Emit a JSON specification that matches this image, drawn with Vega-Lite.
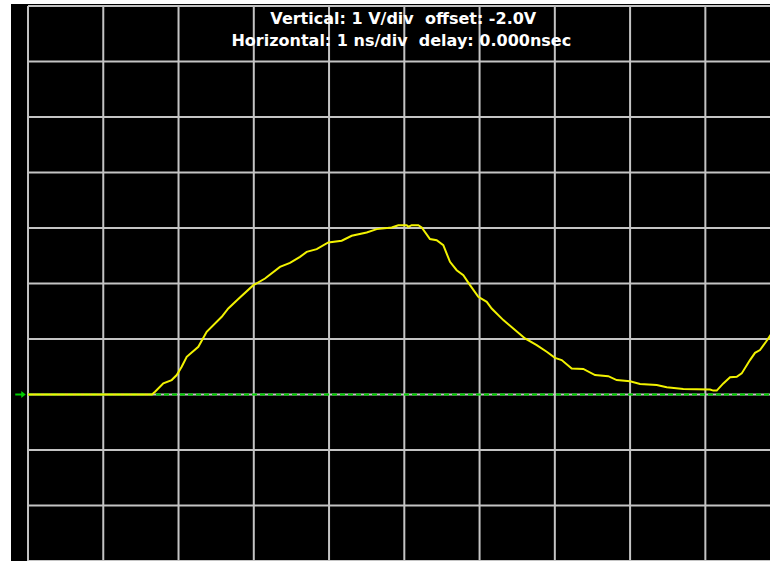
{
  "$schema": "https://vega.github.io/schema/vega-lite/v6.json",
  "width": 759,
  "height": 557,
  "autosize": {"type": "none"},
  "padding": {"left": 11, "top": 4, "right": 0, "bottom": 0},
  "background": "white",
  "config": {"view": {"fill": "black", "stroke": null}},
  "datasets": {
    "trace": [
      {"t": 0, "v": 0}, {"t": 1.648, "v": 0}, {"t": 1.688, "v": 0.05}, {"t": 1.798, "v": 0.2},
      {"t": 1.909, "v": 0.26}, {"t": 1.976, "v": 0.35}, {"t": 2.042, "v": 0.5}, {"t": 2.109, "v": 0.68},
      {"t": 2.263, "v": 0.86}, {"t": 2.374, "v": 1.13}, {"t": 2.574, "v": 1.4}, {"t": 2.661, "v": 1.55},
      {"t": 2.794, "v": 1.72}, {"t": 2.994, "v": 1.97}, {"t": 3.149, "v": 2.09}, {"t": 3.348, "v": 2.3},
      {"t": 3.481, "v": 2.37}, {"t": 3.614, "v": 2.48}, {"t": 3.703, "v": 2.57}, {"t": 3.836, "v": 2.62},
      {"t": 3.99, "v": 2.74}, {"t": 4.168, "v": 2.77}, {"t": 4.301, "v": 2.86}, {"t": 4.5, "v": 2.92},
      {"t": 4.633, "v": 2.98}, {"t": 4.833, "v": 3.01}, {"t": 4.92, "v": 3.05}, {"t": 5.032, "v": 3.05},
      {"t": 5.053, "v": 3.02}, {"t": 5.098, "v": 3.05}, {"t": 5.186, "v": 3.05}, {"t": 5.231, "v": 3.01},
      {"t": 5.341, "v": 2.8}, {"t": 5.43, "v": 2.78}, {"t": 5.518, "v": 2.69}, {"t": 5.607, "v": 2.39},
      {"t": 5.696, "v": 2.24}, {"t": 5.784, "v": 2.15}, {"t": 5.873, "v": 1.97}, {"t": 5.983, "v": 1.76},
      {"t": 6.095, "v": 1.67}, {"t": 6.161, "v": 1.55}, {"t": 6.316, "v": 1.34}, {"t": 6.448, "v": 1.19},
      {"t": 6.604, "v": 1.01}, {"t": 6.759, "v": 0.89}, {"t": 6.892, "v": 0.77}, {"t": 7.002, "v": 0.66},
      {"t": 7.091, "v": 0.62}, {"t": 7.224, "v": 0.47}, {"t": 7.378, "v": 0.46}, {"t": 7.534, "v": 0.35},
      {"t": 7.71, "v": 0.33}, {"t": 7.822, "v": 0.26}, {"t": 7.999, "v": 0.24}, {"t": 8.132, "v": 0.19},
      {"t": 8.354, "v": 0.17}, {"t": 8.487, "v": 0.13}, {"t": 8.707, "v": 0.1}, {"t": 9.062, "v": 0.09},
      {"t": 9.106, "v": 0.07}, {"t": 9.151, "v": 0.07}, {"t": 9.239, "v": 0.2}, {"t": 9.328, "v": 0.31},
      {"t": 9.417, "v": 0.32}, {"t": 9.483, "v": 0.38}, {"t": 9.593, "v": 0.62}, {"t": 9.66, "v": 0.75},
      {"t": 9.726, "v": 0.8}, {"t": 9.806, "v": 0.95}, {"t": 9.886, "v": 1.11}
    ],
    "vgrid": [{"t": 0}, {"t": 1}, {"t": 2}, {"t": 3}, {"t": 4}, {"t": 5}, {"t": 6}, {"t": 7}, {"t": 8}, {"t": 9}, {"t": 10}],
    "hgrid": [{"v": -3}, {"v": -2}, {"v": -1}, {"v": 0}, {"v": 1}, {"v": 2}, {"v": 3}, {"v": 4}, {"v": 5}, {"v": 6}, {"v": 7}],
    "line1": [{"label": "Vertical: 1 V/div\u00a0 offset: -2.0V"}],
    "line2": [{"label": "Horizontal: 1 ns/div\u00a0 delay: 0.000nsec"}],
    "marker": [{"t": -0.1, "v": 0}]
  },
  "layer": [
    {
      "data": {"name": "hgrid"},
      "mark": {"type": "rule", "color": "#c4c4c4", "strokeWidth": 2, "clip": true},
      "encoding": {
        "y": {"field": "v", "type": "quantitative", "scale": {"domain": [-3, 7.036], "nice": false, "zero": false}, "axis": null},
        "x": {"datum": 0, "type": "quantitative", "scale": {"domain": [-0.226, 9.859], "nice": false, "zero": false}, "axis": null},
        "x2": {"datum": 10}
      }
    },
    {
      "data": {"name": "vgrid"},
      "mark": {"type": "rule", "color": "#c4c4c4", "strokeWidth": 2, "clip": true},
      "encoding": {
        "x": {"field": "t", "type": "quantitative", "scale": {"domain": [-0.226, 9.859], "nice": false, "zero": false}, "axis": null},
        "y": {"datum": -3, "type": "quantitative", "scale": {"domain": [-3, 7.036], "nice": false, "zero": false}, "axis": null},
        "y2": {"datum": 7}
      }
    },
    {
      "data": {"name": "marker"},
      "mark": {"type": "rule", "color": "#00d000", "strokeWidth": 2, "strokeDash": [5, 3], "clip": true},
      "encoding": {
        "y": {"field": "v", "type": "quantitative", "scale": {"domain": [-3, 7.036], "nice": false, "zero": false}, "axis": null},
        "x": {"datum": 0, "type": "quantitative", "scale": {"domain": [-0.226, 9.859], "nice": false, "zero": false}, "axis": null},
        "x2": {"datum": 10}
      }
    },
    {
      "data": {"name": "marker"},
      "mark": {"type": "point", "filled": true, "color": "#00d000", "opacity": 1, "size": 110, "strokeWidth": 0,
        "shape": "M-1,-0.18 L0.15,-0.18 L0.15,-0.65 L1,0 L0.15,0.65 L0.15,0.18 L-1,0.18 Z"},
      "encoding": {
        "x": {"field": "t", "type": "quantitative", "scale": {"domain": [-0.226, 9.859], "nice": false, "zero": false}, "axis": null},
        "y": {"field": "v", "type": "quantitative", "scale": {"domain": [-3, 7.036], "nice": false, "zero": false}, "axis": null}
      }
    },
    {
      "data": {"name": "trace"},
      "mark": {"type": "line", "color": "#f2f200", "strokeWidth": 2, "clip": true},
      "encoding": {
        "x": {"field": "t", "type": "quantitative", "scale": {"domain": [-0.226, 9.859], "nice": false, "zero": false}, "axis": null},
        "y": {"field": "v", "type": "quantitative", "scale": {"domain": [-3, 7.036], "nice": false, "zero": false}, "axis": null}
      }
    },
    {
      "data": {"name": "line1"},
      "mark": {"type": "text", "color": "white", "font": "DejaVu Sans", "fontWeight": "bold", "fontSize": 16, "align": "center", "baseline": "alphabetic", "dy": 18, "dx": -1},
      "encoding": {
        "text": {"field": "label", "type": "nominal"},
        "x": {"datum": 5, "type": "quantitative", "scale": {"domain": [-0.226, 9.859], "nice": false, "zero": false}, "axis": null},
        "y": {"datum": 7, "type": "quantitative", "scale": {"domain": [-3, 7.036], "nice": false, "zero": false}, "axis": null}
      }
    },
    {
      "data": {"name": "line2"},
      "mark": {"type": "text", "color": "white", "font": "DejaVu Sans", "fontWeight": "bold", "fontSize": 16, "align": "center", "baseline": "alphabetic", "dy": 40, "dx": -3},
      "encoding": {
        "text": {"field": "label", "type": "nominal"},
        "x": {"datum": 5, "type": "quantitative", "scale": {"domain": [-0.226, 9.859], "nice": false, "zero": false}, "axis": null},
        "y": {"datum": 7, "type": "quantitative", "scale": {"domain": [-3, 7.036], "nice": false, "zero": false}, "axis": null}
      }
    }
  ]
}
